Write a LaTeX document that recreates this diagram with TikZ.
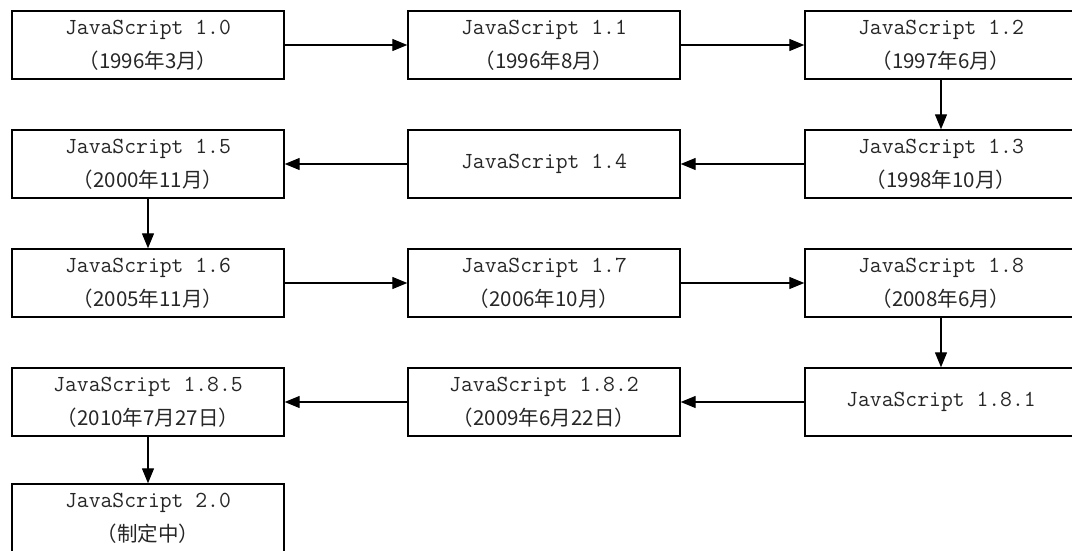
\documentclass[tikz,border=0pt]{standalone}
\usepackage{fontspec}
\newfontfamily\cjk{Noto Sans CJK SC}
\usetikzlibrary{arrows.meta}
\tikzset{
  box/.style={draw, line width=1.4pt, minimum width=272pt, minimum height=68pt,
    inner sep=0pt, align=center, text=black!85, font=\fontsize{23}{34}\selectfont\ttfamily},
  conn/.style={line width=1.3pt, -{Triangle[length=15pt,width=12pt]}},
}
\newcommand\jsline[2]{JavaScript #1\\{\cjk\fontsize{20.5}{34}\selectfont （#2）}}
\begin{document}
\begin{tikzpicture}[x=1pt,y=-1pt]
\useasboundingbox (0,0) rectangle (1072,551);
\node[box] (v10) at (148,45) {\jsline{1.0}{1996年3月}};
\node[box] (v11) at (544,45) {\jsline{1.1}{1996年8月}};
\node[box] (v12) at (941,45) {\jsline{1.2}{1997年6月}};
\node[box] (v15) at (148,164) {\jsline{1.5}{2000年11月}};
\node[box] (v14) at (544,164) {JavaScript 1.4};
\node[box] (v13) at (941,164) {\jsline{1.3}{1998年10月}};
\node[box] (v16) at (148,283) {\jsline{1.6}{2005年11月}};
\node[box] (v17) at (544,283) {\jsline{1.7}{2006年10月}};
\node[box] (v18) at (941,283) {\jsline{1.8}{2008年6月}};
\node[box] (v185) at (148,402) {\jsline{1.8.5}{2010年7月27日}};
\node[box] (v182) at (544,402) {\jsline{1.8.2}{2009年6月22日}};
\node[box] (v181) at (941,402) {JavaScript 1.8.1};
\node[box] (v20) at (148,518) {\jsline{2.0}{制定中}};
\draw[conn] (v10.east) -- (v11.west);
\draw[conn] (v11.east) -- (v12.west);
\draw[conn] (v12.south) -- (v13.north);
\draw[conn] (v13.west) -- (v14.east);
\draw[conn] (v14.west) -- (v15.east);
\draw[conn] (v15.south) -- (v16.north);
\draw[conn] (v16.east) -- (v17.west);
\draw[conn] (v17.east) -- (v18.west);
\draw[conn] (v18.south) -- (v181.north);
\draw[conn] (v181.west) -- (v182.east);
\draw[conn] (v182.west) -- (v185.east);
\draw[conn] (v185.south) -- (v20.north);
\end{tikzpicture}
\end{document}
